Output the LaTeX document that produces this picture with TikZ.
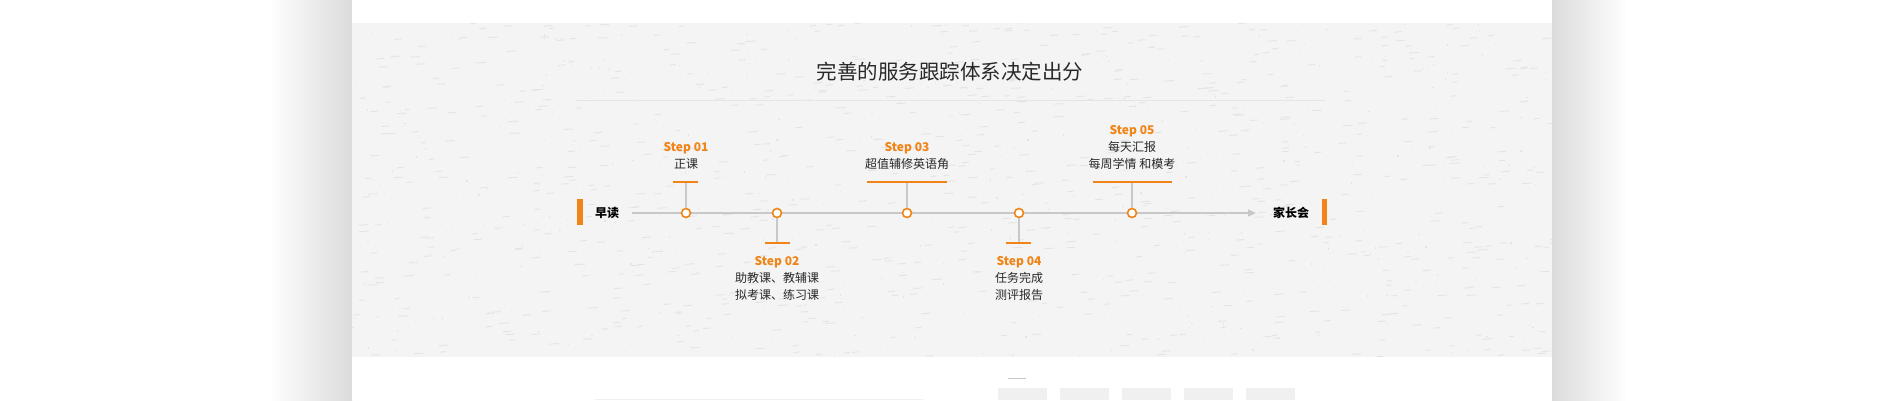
\documentclass[tikz,border=0pt]{standalone}
\usepackage{fontspec}
\setmainfont{Noto Sans CJK SC}
\usetikzlibrary{arrows.meta}
\definecolor{accent}{RGB}{240,132,22}
\definecolor{bandgray}{RGB}{244,244,244}
\definecolor{texgray}{RGB}{228,228,228}
\definecolor{linegray}{RGB}{200,200,200}
\definecolor{txt}{RGB}{40,40,40}
\tikzset{
  dot/.style={circle,draw=accent,fill=white,line width=1.6pt,minimum size=9pt,inner sep=0pt},
  stem/.style={draw=linegray,line width=1.3pt},
  tick/.style={draw=accent,line width=1.5pt},
  steplabel/.style={anchor=base,inner sep=0pt,text=accent,font=\fontsize{12}{14}\selectfont\bfseries},
  desc/.style={anchor=base,inner sep=0pt,text=txt,font=\fontsize{12}{14}\selectfont},
  endlabel/.style={anchor=base,inner sep=0pt,text=black,font=\fontsize{12}{14}\selectfont\bfseries},
  mainline/.style={draw=linegray,line width=1.3pt,-{Triangle[length=8pt,width=7pt]}},
}
\begin{document}
\begin{tikzpicture}[x=1pt,y=-1pt]
\useasboundingbox (0,0) rectangle (1900,400);
\fill[white] (0,0) rectangle (1900,400);
% page shadows
\shade[left color=white,right color=black!14] (268,0) rectangle (352,400);
\shade[left color=black!14,right color=white] (1552,0) rectangle (1628,400);
\fill[white] (352,0) rectangle (1552,400);
% textured band
\fill[bandgray] (352,23) rectangle (1552,357);
\begin{scope}
\clip (352,23) rectangle (1552,357);
\pgfmathsetseed{11}
\foreach \i in {1,...,750}{
  \pgfmathsetmacro\xx{352+1200*rnd}
  \pgfmathsetmacro\yy{23+334*rnd}
  \pgfmathsetmacro\ll{5+5*rnd}
  \draw[texgray,line width=0.9pt] (\xx,\yy) -- ++(\ll,-0.6);
}
\foreach \i in {1,...,500}{
  \pgfmathsetmacro\xx{352+1200*rnd}
  \pgfmathsetmacro\yy{23+334*rnd}
  \fill[texgray] (\xx,\yy) rectangle ++(1.2,1.2);
}
\end{scope}
% title
\node[anchor=base,inner sep=0pt,text=txt,font=\fontsize{20.5}{24}\selectfont] (title) at (950,79) {完善的服务跟踪体系决定出分};
\draw[draw=black!10,line width=0.8pt] (575,100) -- (1325,100);
% end labels and bars
\fill[accent] (577,199) rectangle (583,225);
\node[endlabel] (start) at (607,217) {早读};
\fill[accent] (1322,199) rectangle (1327,225);
\node[endlabel] (end) at (1291,217) {家长会};
% main line
\coordinate (ls) at (632,213);
\coordinate (le) at (1256,213);
\draw[mainline] (ls) -- (le);
% steps
\node[dot] (c1) at (686,213) {};
\node[dot] (c2) at (777,213) {};
\node[dot] (c3) at (907,213) {};
\node[dot] (c4) at (1019,213) {};
\node[dot] (c5) at (1132,213) {};
\coordinate (t1) at (686,182);
\coordinate (t2) at (777,243);
\coordinate (t3) at (907,182);
\coordinate (t4) at (1019,243);
\coordinate (t5) at (1132,182);
\draw[stem] (c1.north) -- (t1);
\draw[stem] (c2.south) -- (t2);
\draw[stem] (c3.north) -- (t3);
\draw[stem] (c4.south) -- (t4);
\draw[stem] (c5.north) -- (t5);
\draw[tick] (673,182) -- (698,182);
\draw[tick] (765,243) -- (790,243);
\draw[tick] (867,182) -- (947,182);
\draw[tick] (1006,243) -- (1031,243);
\draw[tick] (1093,182) -- (1172,182);
% texts
\node[steplabel] (s1) at (686,151) {Step 01};
\node[desc] (d1) at (686,168) {正课};
\node[steplabel] (s2) at (777,265) {Step 02};
\node[desc] (d2a) at (777,282) {助教课、教辅课};
\node[desc] (d2b) at (777,299) {拟考课、练习课};
\node[steplabel] (s3) at (907,151) {Step 03};
\node[desc] (d3) at (907,168) {超值辅修英语角};
\node[steplabel] (s4) at (1019,265) {Step 04};
\node[desc] (d4a) at (1019,282) {任务完成};
\node[desc] (d4b) at (1019,299) {测评报告};
\node[steplabel] (s5) at (1132,134) {Step 05};
\node[desc] (d5a) at (1132,151) {每天汇报};
\node[desc] (d5b) at (1132,168) {每周学情 和模考};
% below band
\draw[linegray,line width=1pt] (1008,378) -- (1026,378);
\foreach \bx in {998,1060,1122,1184,1246}{
  \fill[black!6] (\bx,388) rectangle ++(49,12);
}
\draw[black!6,line width=0.8pt] (595,399.5) -- (923,399.5);
\end{tikzpicture}
\end{document}
